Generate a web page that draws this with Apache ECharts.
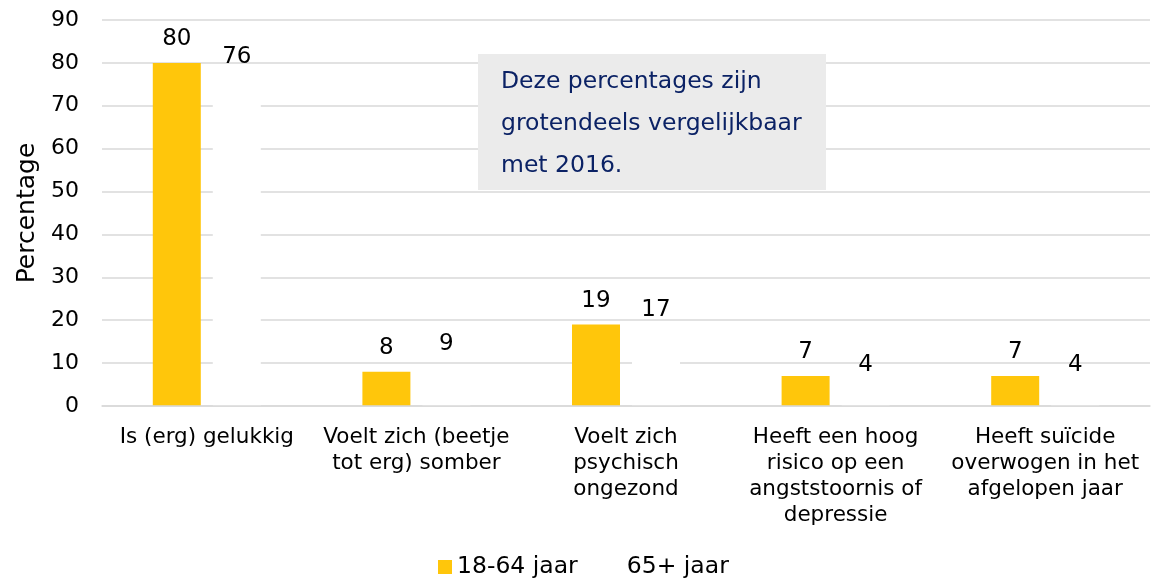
<!DOCTYPE html>
<html><head><meta charset="utf-8">
<script src="https://cdn.jsdelivr.net/npm/echarts@6/dist/echarts.min.js"></script>
<style>html,body{margin:0;padding:0;background:#fff}#c{width:1153px;height:580px}</style>
</head><body><div id="c"></div>
<script>
const categories = ["Is (erg) gelukkig", "Voelt zich (beetje\ntot erg) somber", "Voelt zich\npsychisch\nongezond", "Heeft een hoog\nrisico op een\nangststoornis of\ndepressie", "Heeft suïcide\noverwogen in het\nafgelopen jaar"];
const seriesNames = ["18-64 jaar", "65+ jaar"];
const young = [80, 8, 19, 7, 7];
const old = [76, 9, 17, 4, 4];
const yTicks = {min: 0, max: 90, interval: 10};
const note = "Deze percentages zijn\ngrotendeels vergelijkbaar\nmet 2016.";

const FONT = "DejaVu Sans";
const chart = echarts.init(document.getElementById('c'));
chart.setOption({
  animation: false,
  textStyle: {fontFamily: FONT},
  grid: {left: 102, right: 3, top: 20, bottom: 174, containLabel: false},
  legend: {
    data: seriesNames, top: 550, left: 433, itemWidth: 14, itemHeight: 14, itemGap: 30,
    textStyle: {fontFamily: FONT, fontSize: 23.5, color: '#000'}, icon: 'rect'
  },
  xAxis: {
    type: 'category', data: categories, z: 5,
    axisLine: {lineStyle: {color: '#d9d9d9', width: 1.5}},
    axisTick: {show: false},
    axisLabel: {fontFamily: FONT, fontSize: 21.5, color: '#000', lineHeight: 26, margin: 18, interval: 0}
  },
  yAxis: {
    type: 'value', min: yTicks.min, max: yTicks.max, interval: yTicks.interval,
    name: 'Percentage', nameLocation: 'middle', nameGap: 62, nameRotate: 90,
    nameTextStyle: {fontFamily: FONT, fontSize: 25, color: '#000'},
    axisLine: {show: false}, axisTick: {show: false},
    splitLine: {lineStyle: {color: '#d9d9d9', width: 1.5}},
    axisLabel: {fontFamily: FONT, fontSize: 22, color: '#000', margin: 23}
  },
  series: [
    {name: seriesNames[0], type: 'bar', data: young, barWidth: 48, barGap: '25%',
     itemStyle: {color: '#ffc60b'},
     label: {show: true, position: 'top', distance: 12, fontFamily: FONT, fontSize: 23, color: '#000'}},
    {name: seriesNames[1], type: 'bar', data: old, barWidth: 48,
     itemStyle: {color: '#ffffff'},
     label: {show: true, position: 'top', distance: 12, fontFamily: FONT, fontSize: 23, color: '#000'}}
  ],
  graphic: [
    {type: 'rect', left: 478, top: 54, shape: {width: 348, height: 136}, style: {fill: '#ebebeb'}, z: 10},
    {type: 'text', left: 501, top: 61, z: 11,
     style: {text: note, fill: '#0b2265', font: '23.5px "DejaVu Sans"', lineHeight: 42}}
  ]
});
</script></body></html>
